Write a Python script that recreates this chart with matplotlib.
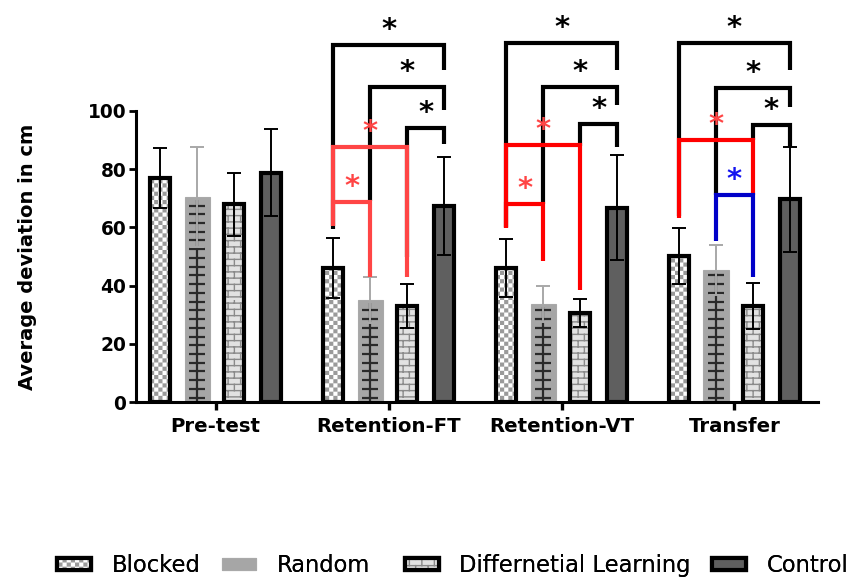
import numpy as np
import matplotlib
matplotlib.use('Agg')
import matplotlib.pyplot as plt
import matplotlib.hatch as mhatch
from matplotlib.path import Path
from matplotlib.patches import Patch
from matplotlib.legend_handler import HandlerTuple

# ---------------- data ----------------
categories = ['Pre-test', 'Retention-FT', 'Retention-VT', 'Transfer']
series = ['Blocked', 'Random', 'Differnetial Learning', 'Control']
blocked = [77.0, 46.0, 46.0, 50.2]
blocked_err = [10.4, 10.4, 10.0, 9.6]
random_vals = [70.4, 35.0, 33.7, 45.4]
random_err = [17.2, 8.0, 6.3, 8.6]
dl_vals = [68.0, 33.0, 30.6, 33.0]
dl_err = [10.8, 7.5, 4.9, 7.9]
control = [78.8, 67.4, 66.8, 69.6]
control_err = [15.0, 16.8, 18.0, 18.2]
yticks = [0, 20, 40, 60, 80, 100]

# significance brackets: (group, bar_i, bar_j, top, left_bottom, right_bottom, line colour, star colour)
BK, R1, R2, BL = 'black', '#ff4545', '#ff0000', '#0000c8'
brackets = [
    (1, 0, 3, 122.7, 59.5, 114.0, BK, BK),
    (1, 1, 3, 108.2, 69.0, 100.3, BK, BK),
    (1, 2, 3, 94.2, 50.0, 88.7, BK, BK),
    (1, 0, 2, 87.6, 60.5, 43.0, R1, '#ff4545'),
    (1, 0, 1, 68.7, 60.5, 43.0, R1, '#ff4545'),
    (2, 0, 3, 123.4, 60.0, 114.1, BK, BK),
    (2, 1, 3, 108.2, 68.0, 102.0, BK, BK),
    (2, 2, 3, 95.5, 88.0, 87.6, BK, BK),
    (2, 0, 2, 88.3, 59.8, 38.5, R2, '#ff4545'),
    (2, 0, 1, 68.0, 59.8, 48.5, R2, '#ff4545'),
    (3, 0, 3, 123.4, 64.0, 114.1, BK, BK),
    (3, 1, 3, 107.9, 71.0, 101.4, BK, BK),
    (3, 2, 3, 95.2, 90.0, 87.6, BK, BK),
    (3, 0, 2, 90.0, 63.2, 71.0, R2, '#ff4545'),
    (3, 1, 2, 71.1, 55.3, 43.0, BL, '#1414f0'),
]

# ---------------- custom hatches ----------------
plt.rcParams['hatch.linewidth'] = 1.0
plt.rcParams['font.family'] = ['DejaVu Sans']


class CheckerHatch(mhatch.HatchPatternBase):
    def __init__(self, hatch, density):
        self.n = 24 if 'O' in hatch else 0
        self.num_vertices = (self.n * self.n // 2) * 5

    def set_vertices_and_codes(self, vertices, codes):
        n = self.n
        c = 1.0 / n
        lw = plt.rcParams['hatch.linewidth'] / 72.0
        s = c - lw
        pad = (c - s) / 2
        k = 0
        for i in range(n):
            for j in range(n):
                if (i + j) % 2 == 0:
                    x0 = i * c + pad
                    y0 = j * c + pad
                    vertices[k:k + 5] = [[x0, y0], [x0 + s, y0], [x0 + s, y0 + s],
                                         [x0, y0 + s], [x0, y0]]
                    codes[k] = Path.MOVETO
                    codes[k + 1:k + 4] = Path.LINETO
                    codes[k + 4] = Path.CLOSEPOLY
                    k += 5


class BrickHatch(mhatch.HatchPatternBase):
    def __init__(self, hatch, density):
        on = 'o' in hatch
        self.rows = 16 if on else 0
        self.cols = 8
        self.num_vertices = (self.rows * 2 + self.rows * self.cols * 2) if on else 0

    def set_vertices_and_codes(self, vertices, codes):
        R, C = self.rows, self.cols
        k = 0
        for r in range(R):
            y = (r + 0.5) / R
            vertices[k] = [0, y]
            vertices[k + 1] = [1, y]
            codes[k] = Path.MOVETO
            codes[k + 1] = Path.LINETO
            k += 2
        for r in range(R):
            off = 0.75 if r % 2 else 0.25
            for cc in range(C):
                x = (cc + off) / C
                vertices[k] = [x, (r + 0.5) / R]
                vertices[k + 1] = [x, (r + 1.5) / R]
                codes[k] = Path.MOVETO
                codes[k + 1] = Path.LINETO
                k += 2


mhatch._hatch_types = [t for t in mhatch._hatch_types
                       if t not in (mhatch.SmallCircles, mhatch.LargeCircles)] + [CheckerHatch, BrickHatch]

# ---------------- figure ----------------
W, H = 855, 579
fig = plt.figure(figsize=(W / 100, H / 100), dpi=100)
ax = fig.add_axes([136 / W, 1 - 402 / H, 682 / W, 291 / H])

xg = np.arange(len(categories))
step = 0.214
offs = (np.arange(4) - 1.5) * step
wb = 0.116
wr = 0.145

x_b = xg + offs[0]
x_r = xg + offs[1]
x_d = xg + offs[2]
x_c = xg + offs[3]

# Blocked
ax.bar(x_b, blocked, width=wb, color='white', edgecolor='#9a9a9a', hatch='O', linewidth=0, zorder=2)
ax.bar(x_b, blocked, width=wb, fill=False, edgecolor='black', linewidth=3, zorder=3)
# Random
ax.bar(x_r, random_vals, width=wr, color='#a6a6a6', edgecolor='#a9a9a9', linewidth=0.8, zorder=2)
dash_step = 3.0
for xi, v in zip(x_r, random_vals):
    ys = np.arange(1.5, v - 1.0, dash_step)
    ax.hlines(ys, xi - 0.045, xi + 0.045, color='#2a2a2a', linewidth=1.6, zorder=3)
    ax.vlines(xi, 0, v - 1.0, color='#2a2a2a', linewidth=1.6, zorder=3)
# Differential learning
ax.bar(x_d, dl_vals, width=wb, color='#e2e2e2', edgecolor='#8a8a8a', hatch='o', linewidth=0, zorder=2)
ax.bar(x_d, dl_vals, width=wb, fill=False, edgecolor='black', linewidth=3, zorder=3)
# Control
ax.bar(x_c, control, width=wb, color='#5f5f5f', edgecolor='black', linewidth=3, zorder=3)

# error bars
ekw = dict(fmt='none', elinewidth=1.4, capsize=4.8, capthick=1.4, zorder=6)
ax.errorbar(x_b, blocked, yerr=blocked_err, ecolor='black', **ekw)
ax.errorbar(x_r, random_vals, yerr=random_err, ecolor='#a8a8a8', **ekw)
ax.errorbar(x_d, dl_vals, yerr=dl_err, ecolor='black', **ekw)
ax.errorbar(x_c, control, yerr=control_err, ecolor='black', **ekw)

# brackets
order = {BK: 0, R1: 1, R2: 1, BL: 2}
for g, i, j, top, lb, rb, col, scol in sorted(brackets, key=lambda b: order[b[6]]):
    x1 = xg[g] + offs[i]
    x2 = xg[g] + offs[j]
    ax.plot([x1, x1, x2, x2], [lb, top, top, rb], color=col, linewidth=3.0,
            clip_on=False, solid_joinstyle='miter', solid_capstyle='butt',
            zorder=7 + order[col])
for g, i, j, top, lb, rb, col, scol in brackets:
    x1 = xg[g] + offs[i]
    x2 = xg[g] + offs[j]
    ax.text((x1 + x2) / 2, top + 2.4, '*', ha='center', va='baseline',
            fontsize=21, fontweight='bold', color=scol, zorder=12, clip_on=False)

# axes styling
ax.set_xlim(-0.461, 3.483)
ax.set_ylim(0, 100)
ax.set_yticks(yticks)
ax.set_xticks(xg)
ax.set_xticklabels(categories, fontsize=14.2, fontweight='bold')
ax.set_yticklabels([str(t) for t in yticks], fontsize=13.4, fontweight='bold')
for s in ['top', 'right']:
    ax.spines[s].set_visible(False)
for s in ['left', 'bottom']:
    ax.spines[s].set_linewidth(2.2)
    ax.spines[s].set_zorder(10)
ax.tick_params(axis='y', length=5, width=2.0, pad=2)
ax.tick_params(axis='x', length=5.5, width=2.4, pad=5)
ax.set_ylabel('Average deviation in cm', fontsize=14, fontweight='bold')
ax.yaxis.set_label_coords(-0.145, 0.5)

# legend (one entry per legend so each can sit where the reference puts it)
h_block = (Patch(facecolor='white', edgecolor='#9a9a9a', hatch='O', linewidth=0),
           Patch(fill=False, edgecolor='black', linewidth=3))
h_rand = Patch(facecolor='#a6a6a6', edgecolor='#a9a9a9', linewidth=0.8)
h_dl = (Patch(facecolor='#e2e2e2', edgecolor='#8a8a8a', hatch='o', linewidth=0),
        Patch(fill=False, edgecolor='black', linewidth=3))
h_ctrl = Patch(facecolor='#5f5f5f', edgecolor='black', linewidth=3)
handles = [h_block, h_rand, h_dl, h_ctrl]
leg_x = [57, 222, 405, 712]
for h, lab, lx in zip(handles, series, leg_x):
    lg = fig.legend([h], [lab], loc='center left', bbox_to_anchor=(lx / W, 0.0235),
                    frameon=False, fontsize=16.3, handlelength=1.5, handleheight=0.45,
                    handletextpad=0.9, borderpad=0, borderaxespad=0,
                    handler_map={tuple: HandlerTuple(ndivide=1)})
    fig.add_artist(lg)

fig.savefig('out.png', dpi=100)
